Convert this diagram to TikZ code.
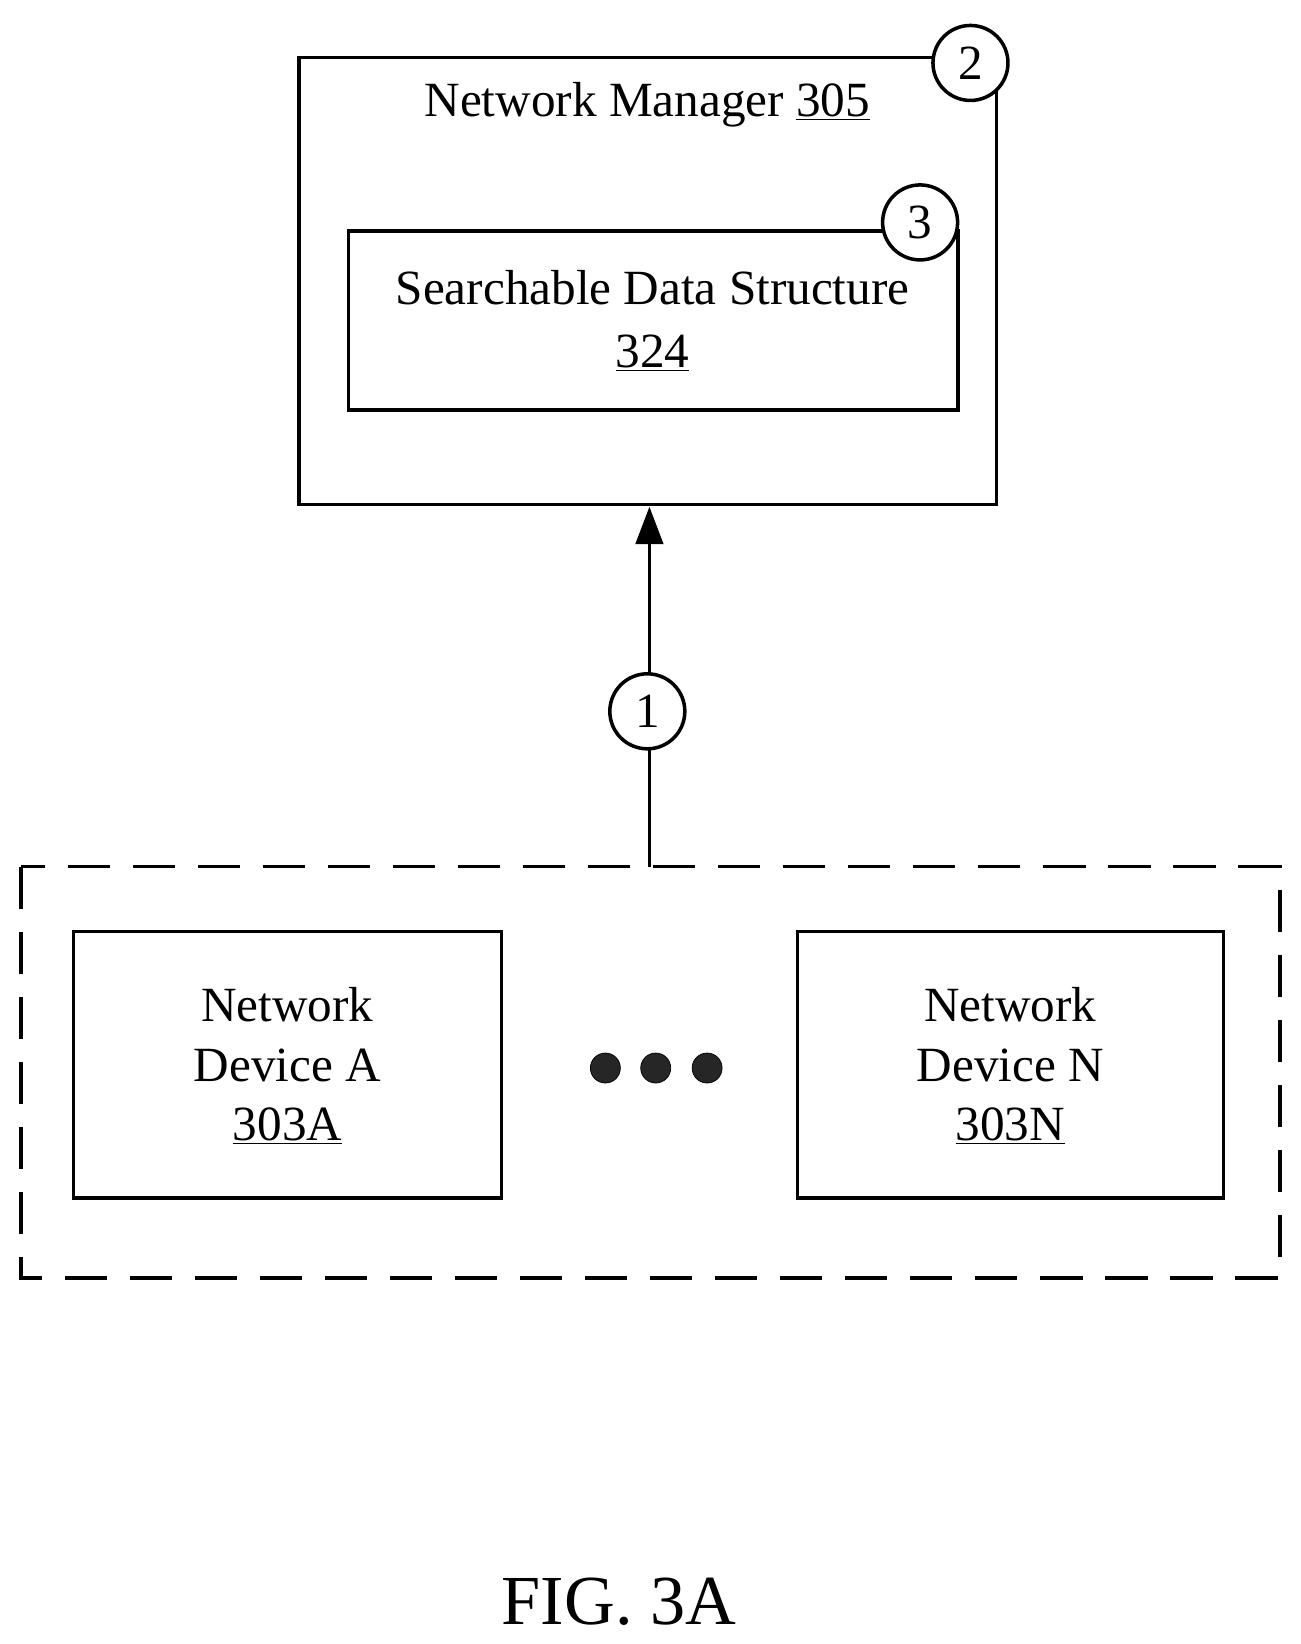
\documentclass[tikz,border=0pt]{standalone}
\usepackage{fontspec}
\setmainfont{Liberation Serif}
\usetikzlibrary{arrows.meta}
\begin{document}
\begin{tikzpicture}[x=0.02098cm,y=-0.02098cm,
 box/.style={draw,line width=2pt},
 num/.style={draw,circle,fill=white,line width=2pt,minimum size=1.5cm,inner sep=0pt,font=\fontsize{28}{32}\selectfont},
 txt/.style={font=\fontsize{28}{34}\selectfont,align=center},
 dot/.style={circle,fill=black!85,draw=black,minimum size=0.6cm,inner sep=0pt}]
\useasboundingbox (0,0) rectangle (1240,1567);
\draw[box] (285,55) rectangle (950,481);
\coordinate (nmb) at (619,483);
\node[txt] (nm) at (617,100) {Network Manager \underline{305}};
\draw[box] (332,220) rectangle (913,391);
\node[txt] (sds) at (622,306) {Searchable Data Structure\\[2pt]\underline{324}};
\node[num] (c2) at (925,60) {2};
\node[num] (c3) at (877,212) {3};
\draw[box,dash pattern=on 24pt off 13pt] (20,826) rectangle (1220,1218);
\coordinate (dtop) at (619,826);
\draw[line width=2pt,-{Triangle[length=0.75cm,width=0.55cm]}] (dtop) -- (nmb);
\node[num] (c1) at (617,678) {1};
\draw[box] (70,888) rectangle (478,1142);
\node[txt] (da) at (274,1016) {Network\\Device A\\\underline{303A}};
\draw[box] (760,888) rectangle (1166,1142);
\node[txt] (dn) at (963,1016) {Network\\Device N\\\underline{303N}};
\node[dot] (d1) at (577,1018) {};
\node[dot] (d2) at (625,1018) {};
\node[dot] (d3) at (674,1018) {};
\node[font=\fontsize{40}{44}\selectfont] (fig) at (590,1527) {FIG. 3A};
\end{tikzpicture}
\end{document}
